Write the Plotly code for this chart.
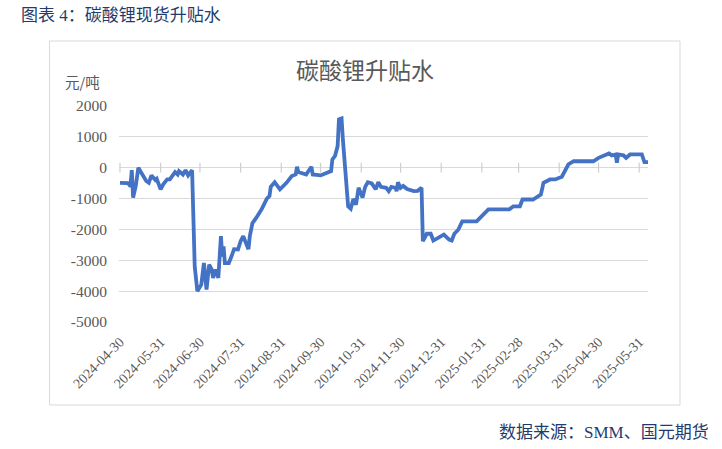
import plotly.graph_objects as go

# ---- data ----
dates = [
    "2024-04-30", "2024-05-06", "2024-05-08", "2024-05-09", "2024-05-10", "2024-05-12",
    "2024-05-14", "2024-05-17", "2024-05-20", "2024-05-22", "2024-05-24", "2024-05-27",
    "2024-05-28", "2024-05-31", "2024-06-02", "2024-06-05", "2024-06-07", "2024-06-11",
    "2024-06-13", "2024-06-14", "2024-06-17", "2024-06-19", "2024-06-21", "2024-06-24",
    "2024-06-25", "2024-06-26", "2024-06-28", "2024-06-30", "2024-07-01", "2024-07-03",
    "2024-07-05", "2024-07-07", "2024-07-09", "2024-07-10", "2024-07-12", "2024-07-14",
    "2024-07-15", "2024-07-16", "2024-07-17", "2024-07-18", "2024-07-19", "2024-07-22",
    "2024-07-24", "2024-07-26", "2024-07-29", "2024-07-31", "2024-08-02", "2024-08-06",
    "2024-08-07", "2024-08-09", "2024-08-12", "2024-08-13", "2024-08-16", "2024-08-20",
    "2024-08-22", "2024-08-23", "2024-08-26", "2024-08-30", "2024-09-04", "2024-09-08",
    "2024-09-11", "2024-09-12", "2024-09-13", "2024-09-19", "2024-09-23", "2024-09-24",
    "2024-09-30", "2024-10-08", "2024-10-09", "2024-10-11", "2024-10-13", "2024-10-14",
    "2024-10-16", "2024-10-17", "2024-10-21", "2024-10-23", "2024-10-25", "2024-10-27",
    "2024-10-29", "2024-11-01", "2024-11-03", "2024-11-05", "2024-11-08", "2024-11-11",
    "2024-11-13", "2024-11-15", "2024-11-19", "2024-11-21", "2024-11-23", "2024-11-26",
    "2024-11-27", "2024-11-28", "2024-11-30", "2024-12-02", "2024-12-05", "2024-12-10",
    "2024-12-13", "2024-12-16", "2024-12-17", "2024-12-20", "2024-12-23", "2024-12-25",
    "2024-12-29", "2025-01-02", "2025-01-06", "2025-01-08", "2025-01-10", "2025-01-13",
    "2025-01-16", "2025-01-27", "2025-02-05", "2025-02-21", "2025-02-24", "2025-03-01",
    "2025-03-03", "2025-03-11", "2025-03-17", "2025-03-19", "2025-03-24", "2025-03-28",
    "2025-04-02", "2025-04-07", "2025-04-11", "2025-04-26", "2025-04-30", "2025-05-08",
    "2025-05-10", "2025-05-13", "2025-05-14", "2025-05-15", "2025-05-19", "2025-05-21",
    "2025-05-24", "2025-06-02", "2025-06-04", "2025-06-07",
]
premium = [
    -490, -500, -600, -80, -970, -600,
    0, -220, -430, -490, -250, -400,
    -360, -700, -540, -380, -380, -140,
    -220, -110, -220, -80, -250, -80,
    -2300, -3200, -4000, -3890, -3790, -3090,
    -3950, -3140, -3300, -3570, -3300, -3570,
    -2880, -2220, -2880, -2550, -3090, -3090,
    -2880, -2640, -2650, -2380, -2220, -2640,
    -2220, -1800, -1620, -1550, -1350, -1000,
    -920, -620, -470, -700, -490, -270,
    -220, 30, -140, -220, 30, -220,
    -250, -110, 270, 380, 700, 1570,
    1600, 920, -1250, -1330, -1010, -1200,
    -650, -970, -620, -470, -510, -700,
    -470, -620, -650, -760, -620, -650,
    -760, -470, -650, -590, -690, -760,
    -750, -650, -2380, -2140, -2140, -2360,
    -2280, -2170, -2330, -2360, -2140, -2010,
    -1740, -1740, -1350, -1350, -1250, -1250,
    -1030, -1030, -870, -490, -380, -380,
    -290, 110, 210, 210, 320, 460,
    400, 430, 160, 430, 400, 320,
    430, 430, 180, 180,
]
x_ticks = ["2024-04-30", "2024-05-31", "2024-06-30", "2024-07-31", "2024-08-31",
           "2024-09-30", "2024-10-31", "2024-11-30", "2024-12-31", "2025-01-31",
           "2025-02-28", "2025-03-31", "2025-04-30", "2025-05-31"]
y_ticks = [2000, 1000, 0, -1000, -2000, -3000, -4000, -5000]
y_tick_labels = ["2000", "1000", "0", "-1000", "-2000", "-3000", "-4000", "-5000"]

# ---- layout helpers (pixel -> paper) ----
W, H = 722, 449
L, R, T, B = 119, 648, 106, 322


def px(x):
    return (x - L) / (R - L)


def py(y):
    return (B - y) / (B - T)


GRAY = "#595959"
GRID = "#d9d9d9"
NAVY = "#1f3c6e"
SERIF = "Liberation Serif, Noto Sans CJK SC"
CJK = "Noto Sans CJK SC"

fig = go.Figure()

# tick marks on the zero line (category axis crosses at 0)
fig.add_trace(go.Scatter(
    x=x_ticks, y=[0] * len(x_ticks), mode="markers",
    marker=dict(symbol="line-ns-open", size=7, color="#cfcfcf",
                line=dict(color="#cfcfcf", width=1.2)),
    hoverinfo="skip", showlegend=False,
))

fig.add_trace(go.Scatter(
    x=dates, y=premium, mode="lines",
    line=dict(color="#4472C4", width=3.8),
    showlegend=False,
))

fig.update_layout(
    width=W, height=H,
    margin=dict(l=L, r=W - R, t=T, b=H - B, pad=0),
    paper_bgcolor="white", plot_bgcolor="white",
    font=dict(family=SERIF, color=GRAY),
    xaxis=dict(
        type="date",
        range=["2024-04-29 06:00", "2025-06-06 17:00"],
        tickvals=x_ticks, ticktext=x_ticks, tickangle=-45,
        tickfont=dict(family=SERIF, size=14, color=GRAY),
        showgrid=False, zeroline=False, showline=False, ticks="",
        ticklabelstandoff=8,
    ),
    yaxis=dict(
        range=[-5000, 2000],
        tickvals=y_ticks, ticktext=y_tick_labels,
        tickfont=dict(family=SERIF, size=15.5, color=GRAY),
        showgrid=True, gridcolor=GRID, gridwidth=1,
        zeroline=True, zerolinecolor=GRID, zerolinewidth=1,
        showline=False, ticks="", ticklabelstandoff=11,
    ),
    shapes=[dict(
        type="rect", xref="paper", yref="paper",
        x0=px(49.5), x1=px(680), y0=py(405), y1=py(41),
        line=dict(color=GRID, width=1), fillcolor="rgba(0,0,0,0)", layer="below",
    )],
    annotations=[
        dict(text="碳酸锂升贴水", xref="paper", yref="paper",
             x=px(364.5), y=py(69), xanchor="center", yanchor="middle",
             showarrow=False, font=dict(family=CJK, size=23, color=GRAY)),
        dict(text="元/吨", xref="paper", yref="paper",
             x=px(63), y=py(81), xanchor="left", yanchor="middle",
             showarrow=False, font=dict(family=CJK, size=14.5, color=GRAY)),
        dict(text="图表 4：碳酸锂现货升贴水", xref="paper", yref="paper",
             x=px(19), y=py(15), xanchor="left", yanchor="middle",
             showarrow=False, font=dict(family=SERIF, size=17, color=NAVY)),
        dict(text="数据来源：SMM、国元期货", xref="paper", yref="paper",
             x=px(711), y=py(432), xanchor="right", yanchor="middle",
             showarrow=False, font=dict(family=SERIF, size=17, color=NAVY)),
    ],
)

fig.write_html("out.html", config={"displayModeBar": False},
               post_script="document.body.style.margin='0';")
